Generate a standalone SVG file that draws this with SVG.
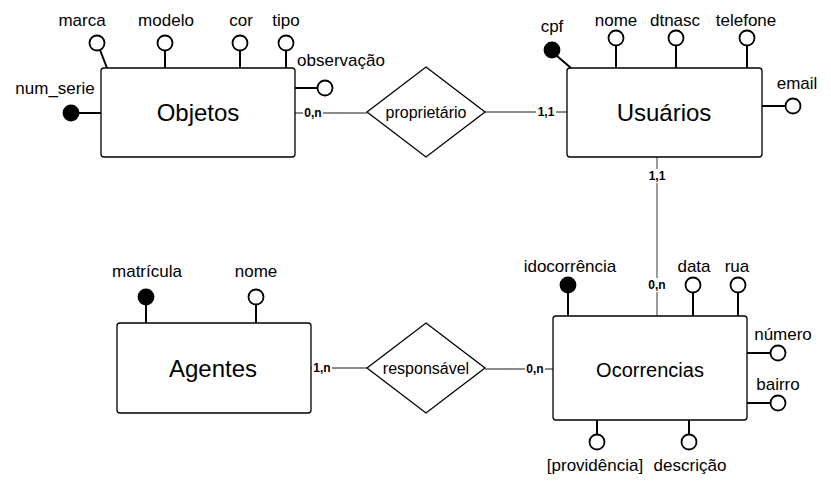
<svg xmlns="http://www.w3.org/2000/svg" width="831" height="485" viewBox="0 0 831 485">
<style>
text{font-family:"Liberation Sans",Arial,sans-serif;fill:#000}
.ent{fill:#fff;stroke:#000;stroke-width:1.3}
.rel{fill:#fff;stroke:#000;stroke-width:1.3}
.al{stroke:#000;stroke-width:2;fill:none}
.ac{fill:#fff;stroke:#000;stroke-width:1.8}
.key{fill:#000;stroke:#000;stroke-width:1.8}
.at{font-size:17px;text-anchor:middle}
.en{font-size:24px;text-anchor:middle}
.rn{font-size:16px;text-anchor:middle}
.con{stroke:#666;stroke-width:1.3;fill:none}
.card{font-size:12px;font-weight:bold;text-anchor:middle}
.cb{fill:#fff}
</style>
<rect width="831" height="485" fill="#fff"/>
<g id="connectors">
<line class="con" x1="295" y1="113" x2="367" y2="113"/>
<line class="con" x1="485" y1="112" x2="567" y2="112"/>
<line class="con" x1="657" y1="157" x2="657" y2="316"/>
<line class="con" x1="311" y1="368" x2="367" y2="368"/>
<line class="con" x1="485" y1="369" x2="553" y2="369"/>
<rect class="cb" x="303" y="106" width="20" height="14"/>
<text class="card" x="313" y="117">0,n</text>
<rect class="cb" x="536" y="105" width="20" height="14"/>
<text class="card" x="546" y="116">1,1</text>
<rect class="cb" x="647" y="169" width="20" height="14"/>
<text class="card" x="657" y="180">1,1</text>
<rect class="cb" x="647" y="278" width="20" height="14"/>
<text class="card" x="657" y="289">0,n</text>
<rect class="cb" x="312" y="361" width="20" height="14"/>
<text class="card" x="322" y="372">1,n</text>
<rect class="cb" x="525" y="362" width="20" height="14"/>
<text class="card" x="535" y="373">0,n</text>
</g>
<g id="objetos">
<line class="al" x1="100" y1="50" x2="107" y2="68"/>
<circle class="ac" cx="97" cy="43" r="7.5"/>
<text class="at" x="82" y="26">marca</text>
<line class="al" x1="165" y1="51" x2="165" y2="68"/>
<circle class="ac" cx="165" cy="43" r="7.5"/>
<text class="at" x="166" y="26">modelo</text>
<line class="al" x1="240" y1="51" x2="240" y2="68"/>
<circle class="ac" cx="240" cy="43" r="7.5"/>
<text class="at" x="241" y="26">cor</text>
<line class="al" x1="286" y1="51" x2="286" y2="68"/>
<circle class="ac" cx="286" cy="43" r="7.5"/>
<text class="at" x="286" y="26">tipo</text>
<line class="al" x1="295" y1="88" x2="318" y2="88"/>
<circle class="ac" cx="325" cy="88" r="7.5"/>
<text class="at" x="341" y="66">observação</text>
<line class="al" x1="78" y1="113" x2="101" y2="113"/>
<circle class="key" cx="71" cy="113" r="7.5"/>
<text class="at" x="55" y="94">num_serie</text>
<rect class="ent" x="101" y="68" width="194" height="89" rx="3"/>
<text class="en" x="198" y="121">Objetos</text>
</g>
<g id="proprietario">
<polygon class="rel" points="426,67 485,112 426,157 367,112"/>
<text class="rn" x="426" y="118">proprietário</text>
</g>
<g id="usuarios">
<line class="al" x1="557" y1="56" x2="571" y2="68"/>
<circle class="key" cx="552" cy="50" r="7.5"/>
<text class="at" x="552" y="32">cpf</text>
<line class="al" x1="616" y1="46" x2="616" y2="68"/>
<circle class="ac" cx="616" cy="38" r="7.5"/>
<text class="at" x="616" y="26">nome</text>
<line class="al" x1="676" y1="46" x2="676" y2="68"/>
<circle class="ac" cx="676" cy="38" r="7.5"/>
<text class="at" x="675" y="26">dtnasc</text>
<line class="al" x1="747" y1="46" x2="747" y2="68"/>
<circle class="ac" cx="747" cy="38" r="7.5"/>
<text class="at" x="746" y="26">telefone</text>
<line class="al" x1="762" y1="106" x2="786" y2="106"/>
<circle class="ac" cx="793" cy="106" r="7.5"/>
<text class="at" x="797" y="89">email</text>
<rect class="ent" x="567" y="68" width="195" height="89" rx="3"/>
<text class="en" x="664" y="121">Usuários</text>
</g>
<g id="agentes">
<line class="al" x1="146" y1="304" x2="146" y2="323"/>
<circle class="key" cx="146" cy="297" r="7.5"/>
<text class="at" x="147" y="277">matrícula</text>
<line class="al" x1="256" y1="304" x2="256" y2="323"/>
<circle class="ac" cx="256" cy="297" r="7.5"/>
<text class="at" x="256" y="277">nome</text>
<rect class="ent" x="117" y="323" width="194" height="90" rx="3"/>
<text class="en" x="213" y="377">Agentes</text>
</g>
<g id="responsavel">
<polygon class="rel" points="426,323 485,368 426,413 367,368"/>
<text class="rn" x="426" y="374">responsável</text>
</g>
<g id="ocorrencias">
<line class="al" x1="568" y1="293" x2="568" y2="316"/>
<circle class="key" cx="568" cy="285" r="7.5"/>
<text class="at" x="570" y="272">idocorrência</text>
<line class="al" x1="693" y1="293" x2="693" y2="316"/>
<circle class="ac" cx="693" cy="285" r="7.5"/>
<text class="at" x="694" y="272">data</text>
<line class="al" x1="738" y1="293" x2="738" y2="316"/>
<circle class="ac" cx="738" cy="285" r="7.5"/>
<text class="at" x="737" y="272">rua</text>
<line class="al" x1="747" y1="353" x2="770" y2="353"/>
<circle class="ac" cx="778" cy="353" r="7.5"/>
<text class="at" x="783" y="340">número</text>
<line class="al" x1="747" y1="403" x2="770" y2="403"/>
<circle class="ac" cx="778" cy="403" r="7.5"/>
<text class="at" x="778" y="390">bairro</text>
<line class="al" x1="597" y1="420" x2="597" y2="434"/>
<circle class="ac" cx="597" cy="442" r="7.5"/>
<text class="at" x="595" y="471">[providência]</text>
<line class="al" x1="689" y1="420" x2="689" y2="434"/>
<circle class="ac" cx="689" cy="442" r="7.5"/>
<text class="at" x="690" y="471">descrição</text>
<rect class="ent" x="553" y="316" width="194" height="104" rx="3"/>
<text class="en" style="font-size:20px" x="650" y="377">Ocorrencias</text>
</g>
</svg>
